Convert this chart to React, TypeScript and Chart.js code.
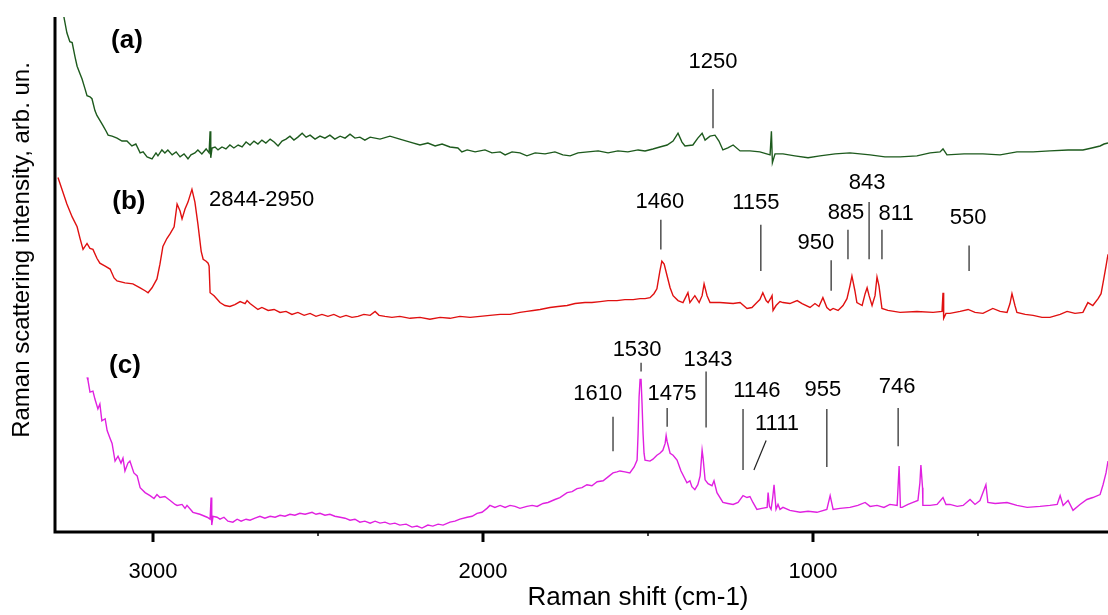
import React, { useEffect, useRef } from "react";
import { Chart, registerables } from "chart.js";

Chart.register(...registerables);

const FONT = '"Liberation Sans", Arial, Helvetica, sans-serif';

// ---- axis text ----
const xTitle = "Raman shift (cm-1)";
const yTitle = "Raman scattering intensity, arb. un.";
const majorTicks = [1000, 2000, 3000];
const minorTicks = [500, 1500, 2500];

// ---- spectra: [Raman shift (cm-1), intensity (arb. un., offset traces)] ----
const spectrumA: [number, number][] = [
  [3285, 560], [3270, 523], [3261, 507], [3252, 498], [3245, 497], [3236, 482], [3230, 473],
  [3221, 465], [3215, 460], [3206, 450], [3200, 443], [3191, 442], [3185, 440], [3176, 428],
  [3170, 423], [3161, 418], [3152, 413], [3142, 407], [3136, 403], [3124, 402], [3109, 400],
  [3094, 397], [3079, 397], [3064, 392], [3052, 394], [3039, 385], [3030, 386], [3018, 381],
  [3003, 379], [2991, 385], [2985, 382], [2973, 388], [2964, 385], [2955, 388], [2942, 383],
  [2930, 386], [2918, 381], [2906, 384], [2894, 379], [2885, 383], [2873, 385], [2864, 388],
  [2852, 384], [2839, 389], [2830, 385], [2827, 407], [2825, 380], [2821, 390], [2812, 391],
  [2803, 388], [2791, 391], [2779, 389], [2767, 393], [2755, 390], [2742, 393], [2730, 391],
  [2718, 396], [2706, 393], [2694, 397], [2682, 394], [2670, 398], [2658, 395], [2645, 399],
  [2633, 396], [2621, 392], [2609, 397], [2597, 399], [2585, 402], [2573, 398], [2561, 401],
  [2548, 405], [2536, 401], [2524, 403], [2509, 399], [2494, 402], [2479, 400], [2464, 403],
  [2449, 399], [2433, 402], [2418, 400], [2403, 404], [2388, 400], [2373, 401], [2358, 398],
  [2342, 401], [2312, 399], [2282, 402], [2252, 399], [2221, 396], [2191, 393], [2167, 395],
  [2145, 392], [2124, 394], [2100, 391], [2076, 390], [2064, 386], [2048, 388], [2024, 386],
  [1994, 388], [1973, 385], [1948, 386], [1933, 383], [1912, 386], [1888, 385], [1867, 382],
  [1842, 385], [1812, 384], [1782, 386], [1758, 383], [1736, 382], [1712, 385], [1682, 386],
  [1651, 387], [1621, 385], [1591, 387], [1561, 386], [1530, 388], [1509, 387], [1485, 389],
  [1464, 391], [1442, 393], [1424, 397], [1409, 405], [1397, 396], [1388, 392],
  [1364, 393], [1349, 400], [1336, 405], [1327, 398], [1312, 402], [1297, 403], [1285, 397],
  [1273, 388], [1258, 390], [1242, 393], [1221, 387], [1191, 387], [1161, 386], [1130, 383],
  [1126, 407], [1123, 375], [1115, 384], [1091, 384], [1055, 382], [1015, 380], [979, 382],
  [933, 384], [888, 385], [827, 383], [782, 381], [736, 381], [685, 382], [645, 385],
  [615, 386], [606, 389], [594, 383], [542, 384], [485, 384], [433, 383], [382, 386],
  [333, 386], [282, 387], [227, 388], [182, 388], [155, 390], [130, 392], [118, 394], [106, 395],
];

const spectrumB: [number, number][] = [
  [3288, 360], [3276, 348], [3261, 333], [3245, 320], [3230, 310], [3221, 298], [3212, 287],
  [3200, 293], [3191, 288], [3182, 287], [3170, 278], [3161, 273], [3145, 270], [3130, 267],
  [3118, 258], [3109, 255], [3085, 253], [3061, 252], [3039, 248], [3024, 245], [3015, 243],
  [3003, 248], [2988, 257], [2979, 272], [2970, 290], [2958, 298], [2948, 303], [2936, 310],
  [2927, 333], [2918, 326], [2912, 318], [2903, 328], [2894, 335], [2882, 348], [2873, 335],
  [2864, 313], [2854, 285], [2848, 277], [2839, 275], [2833, 273], [2830, 270], [2827, 243],
  [2815, 240], [2797, 233], [2782, 230], [2767, 229], [2752, 231], [2736, 234], [2721, 232],
  [2715, 235], [2706, 232], [2694, 229], [2682, 226], [2670, 228], [2651, 225], [2633, 226],
  [2615, 223], [2597, 224], [2579, 221], [2561, 223], [2542, 220], [2524, 222], [2506, 219],
  [2488, 221], [2470, 219], [2452, 221], [2433, 218], [2415, 220], [2397, 218], [2379, 219],
  [2361, 221], [2342, 220], [2327, 224], [2315, 220], [2297, 219], [2276, 218], [2252, 219],
  [2221, 217], [2191, 218], [2161, 216], [2130, 218], [2100, 217], [2070, 219], [2039, 218],
  [2009, 219], [1979, 220], [1948, 221], [1918, 221], [1888, 223], [1867, 224], [1848, 225],
  [1827, 226], [1797, 228], [1773, 229], [1745, 230], [1721, 232], [1691, 233], [1670, 233],
  [1645, 234], [1621, 235], [1594, 235], [1570, 236], [1545, 236], [1524, 237], [1509, 237],
  [1494, 238], [1482, 242], [1473, 247], [1464, 265],
  [1458, 275], [1451, 272], [1442, 260], [1433, 248], [1424, 240], [1409, 235], [1394, 233],
  [1379, 243], [1373, 233], [1358, 240], [1345, 233], [1336, 240], [1330, 252], [1321, 240],
  [1312, 233], [1282, 233], [1242, 232], [1221, 233], [1200, 227], [1185, 228], [1170, 233],
  [1161, 236], [1152, 243], [1142, 235], [1136, 233], [1127, 238], [1124, 240], [1121, 225],
  [1112, 230], [1100, 234], [1091, 233], [1070, 232], [1048, 235], [1033, 232], [1009, 228],
  [994, 232], [982, 229], [970, 238], [958, 228], [948, 225], [939, 227], [924, 225],
  [909, 230], [897, 237], [888, 250], [882, 260], [873, 245], [867, 233], [851, 230],
  [842, 242], [836, 248], [830, 240], [821, 230], [812, 240], [806, 259], [800, 250],
  [791, 227], [773, 225], [736, 223], [685, 224], [636, 223], [609, 224], [606, 243],
  [604, 217], [597, 222], [585, 222], [554, 224], [530, 226], [509, 223], [485, 222],
  [455, 227], [433, 224], [412, 223], [403, 232], [397, 242], [388, 230], [382, 223],
  [357, 221], [333, 220], [306, 218], [282, 218], [251, 221], [230, 224], [206, 222],
  [182, 223], [167, 233], [152, 230], [136, 237], [127, 242], [121, 253], [112, 270], [106, 282],
];

const spectrumC: [number, number][] = [
  [3200, 157], [3197, 154], [3191, 142], [3182, 143], [3176, 135], [3167, 125], [3161, 130],
  [3155, 113], [3145, 115], [3139, 103], [3130, 95], [3124, 90], [3115, 72], [3106, 77],
  [3097, 70], [3091, 75], [3085, 62], [3076, 70], [3070, 72], [3058, 60], [3048, 57],
  [3039, 45], [3024, 40], [3009, 37], [2997, 34], [2988, 38], [2979, 35], [2964, 36],
  [2948, 32], [2933, 28], [2927, 27], [2912, 28], [2903, 24], [2897, 27], [2879, 20],
  [2858, 18], [2836, 15], [2827, 13], [2824, 35], [2822, 7], [2818, 16], [2806, 15],
  [2797, 13], [2785, 15], [2773, 11], [2758, 10], [2745, 13], [2733, 11], [2718, 13],
  [2706, 12], [2691, 14], [2676, 16], [2661, 14], [2645, 16], [2630, 15], [2615, 17],
  [2600, 16], [2585, 18], [2570, 17], [2555, 19], [2539, 18], [2518, 20], [2506, 18],
  [2494, 19], [2479, 17], [2464, 18], [2449, 16], [2433, 15], [2418, 14], [2403, 12],
  [2388, 13], [2373, 10], [2358, 11], [2342, 9], [2327, 11], [2312, 9], [2297, 10],
  [2282, 8], [2267, 9], [2252, 7], [2233, 8], [2215, 5], [2200, 6], [2185, 4],
  [2167, 7], [2152, 6], [2136, 8], [2121, 7], [2100, 10], [2085, 11], [2070, 13],
  [2048, 15], [2033, 16], [2018, 19], [2003, 20], [1988, 24], [1979, 27], [1964, 25],
  [1948, 27], [1933, 25], [1918, 27], [1903, 26], [1888, 24], [1867, 26], [1851, 27],
  [1836, 26], [1818, 29], [1803, 30], [1782, 33], [1767, 35], [1745, 40], [1730, 41],
  [1715, 44], [1700, 45], [1685, 48], [1670, 47], [1654, 51], [1636, 52], [1621, 56],
  [1606, 60], [1594, 61], [1585, 62],
  [1570, 61], [1555, 60], [1542, 66], [1533, 73], [1530, 100], [1527, 137], [1524, 155],
  [1521, 155], [1518, 130], [1515, 100], [1512, 80], [1509, 73], [1494, 72], [1485, 74],
  [1473, 78], [1464, 80], [1455, 83], [1448, 90], [1445, 98], [1442, 92], [1433, 80],
  [1424, 78], [1412, 73], [1400, 62], [1382, 50], [1373, 52], [1367, 46], [1358, 43],
  [1349, 48], [1342, 57], [1336, 83], [1333, 75], [1327, 53], [1318, 49], [1306, 47],
  [1300, 52], [1291, 40], [1273, 30], [1258, 29], [1242, 28], [1227, 30], [1212, 37],
  [1200, 35], [1191, 36], [1182, 30], [1170, 23], [1155, 24], [1139, 25], [1136, 40],
  [1132, 26], [1127, 23], [1122, 35], [1118, 48], [1112, 23], [1106, 28], [1100, 23],
  [1091, 25], [1070, 22], [1039, 20], [1015, 21], [988, 20], [958, 23], [948, 37],
  [939, 23], [918, 24], [888, 25], [864, 27], [842, 30], [827, 26], [806, 27],
  [785, 25], [767, 28], [745, 27], [739, 67], [735, 25], [730, 25], [712, 28],
  [697, 30], [682, 32], [676, 50], [673, 68], [668, 45], [667, 27], [645, 27],
  [624, 28], [606, 35], [597, 28], [585, 28], [563, 26], [545, 27], [524, 33],
  [509, 28], [494, 32], [476, 48], [470, 30], [448, 29], [412, 30], [382, 27],
  [351, 25], [312, 26], [282, 27], [260, 28], [251, 37], [242, 27], [227, 32],
  [212, 22], [191, 28], [170, 33], [152, 35], [130, 38], [121, 48], [112, 60], [106, 72],
];

// ---- annotation texts (peak labels) ----
const peakLabelTexts = [
  "1250", "1460", "1155", "950", "885", "843", "811", "550",
  "1610", "1530", "1475", "1343", "1146", "1111", "955", "746",
];
const bandLabelText = "2844-2950";
const panelLabelTexts = ["(a)", "(b)", "(c)"];

// layout of annotations, in data units (shift, intensity)
const peakLabelLayout = [
  { x: 1303, y: 477, line: [1303, 450, 1303, 410] },
  { x: 1464, y: 335, line: [1461, 317, 1461, 287] },
  { x: 1173, y: 334, line: [1158, 312, 1158, 265] },
  { x: 991, y: 294, line: [945, 276, 945, 245] },
  { x: 900, y: 324, line: [894, 307, 894, 277] },
  { x: 836, y: 354, line: [830, 335, 830, 277] },
  { x: 748, y: 323, line: [791, 307, 791, 277] },
  { x: 530, y: 319, line: [527, 291, 527, 265] },
  { x: 1652, y: 140, line: [1606, 117, 1606, 82] },
  { x: 1533, y: 185, line: [1521, 172, 1521, 163] },
  { x: 1427, y: 140, line: [1442, 126, 1442, 107] },
  { x: 1318, y: 175, line: [1324, 163, 1324, 106] },
  { x: 1170, y: 143, line: [1212, 125, 1212, 63] },
  { x: 1109, y: 110, line: [1142, 93, 1179, 63] },
  { x: 970, y: 144, line: [958, 125, 958, 66] },
  { x: 745, y: 147, line: [742, 126, 742, 87] },
];
const bandLabelLayout = { x: 2830, y: 337 };
const panelLabelLayout = [
  { x: 3079, y: 499 },
  { x: 3073, y: 335 },
  { x: 3085, y: 169 },
];

const overlayPlugin = {
  id: "overlay",
  afterDraw(chart: any) {
    const { ctx, chartArea } = chart;
    const xs = chart.scales.x;
    const ys = chart.scales.y;
    const X = (v: number) => xs.getPixelForValue(v);
    const Y = (v: number) => ys.getPixelForValue(v);
    ctx.save();

    // axes
    ctx.strokeStyle = "#000";
    ctx.lineWidth = 3;
    ctx.beginPath();
    ctx.moveTo(chartArea.left, chartArea.top);
    ctx.lineTo(chartArea.left, chartArea.bottom + 1.5);
    ctx.moveTo(chartArea.left - 1.5, chartArea.bottom);
    ctx.lineTo(chartArea.right, chartArea.bottom);
    ctx.stroke();

    majorTicks.forEach((v) => {
      const px = X(v);
      ctx.lineWidth = 3;
      ctx.beginPath();
      ctx.moveTo(px, chartArea.bottom);
      ctx.lineTo(px, chartArea.bottom + 10);
      ctx.stroke();
    });
    minorTicks.forEach((v) => {
      const px = X(v);
      ctx.lineWidth = 1.5;
      ctx.beginPath();
      ctx.moveTo(px, chartArea.bottom);
      ctx.lineTo(px, chartArea.bottom + 4);
      ctx.stroke();
    });

    // leader lines
    ctx.strokeStyle = "#222";
    ctx.lineWidth = 1.2;
    peakLabelLayout.forEach((p) => {
      const [x1, y1, x2, y2] = p.line;
      ctx.beginPath();
      ctx.moveTo(X(x1), Y(y1));
      ctx.lineTo(X(x2), Y(y2));
      ctx.stroke();
    });

    // peak labels
    ctx.fillStyle = "#000";
    ctx.textBaseline = "middle";
    ctx.textAlign = "center";
    ctx.font = `22px ${FONT}`;
    peakLabelTexts.forEach((t, i) => {
      const p = peakLabelLayout[i];
      ctx.fillText(t, X(p.x), Y(p.y));
    });
    ctx.textAlign = "left";
    ctx.fillText(bandLabelText, X(bandLabelLayout.x), Y(bandLabelLayout.y));

    // panel labels
    ctx.textAlign = "center";
    ctx.font = `bold 26px ${FONT}`;
    panelLabelTexts.forEach((t, i) => {
      const p = panelLabelLayout[i];
      ctx.fillText(t, X(p.x), Y(p.y));
    });

    // axis titles
    ctx.font = `26px ${FONT}`;
    ctx.fillText(xTitle, 638, 598);
    ctx.save();
    ctx.translate(22, 250);
    ctx.rotate(-Math.PI / 2);
    ctx.font = `24px ${FONT}`;
    ctx.fillText(yTitle, 0, 0);
    ctx.restore();

    ctx.restore();
  },
};

export default function App() {
  const ref = useRef<HTMLCanvasElement | null>(null);
  useEffect(() => {
    if (!ref.current) return;
    const toPts = (s: [number, number][]) => s.map(([x, y]) => ({ x, y }));
    const chart = new Chart(ref.current, {
      type: "line",
      data: {
        datasets: [
          { label: "(a)", data: toPts(spectrumA), borderColor: "#1d5a1d", borderWidth: 1.4, pointRadius: 0, tension: 0 },
          { label: "(b)", data: toPts(spectrumB), borderColor: "#e01010", borderWidth: 1.4, pointRadius: 0, tension: 0 },
          { label: "(c)", data: toPts(spectrumC), borderColor: "#e020e0", borderWidth: 1.4, pointRadius: 0, tension: 0 },
        ],
      },
      options: {
        responsive: false,
        animation: false,
        devicePixelRatio: 1,
        layout: { padding: { left: 55, right: 0, top: 17, bottom: 11 } },
        plugins: { legend: { display: false }, tooltip: { enabled: false } },
        scales: {
          x: {
            type: "linear",
            reverse: true,
            min: 106,
            max: 3297,
            afterBuildTicks: (scale: any) => {
              scale.ticks = majorTicks.map((v) => ({ value: v }));
            },
            ticks: {
              color: "#000",
              font: { family: FONT, size: 22, lineHeight: 1 },
              padding: 21,
              maxRotation: 0,
              autoSkip: false,
              callback: (v: any) => String(v),
            },
            grid: { display: false },
            border: { display: false },
          },
          y: { display: false, min: 0, max: 523 },
        },
      },
      plugins: [overlayPlugin],
    });
    return () => chart.destroy();
  }, []);
  return (
    <div style={{ position: "fixed", left: 0, top: 0, width: 1108, height: 615, background: "#fff" }}>
      <canvas ref={ref} width={1108} height={615} style={{ display: "block" }} />
    </div>
  );
}
